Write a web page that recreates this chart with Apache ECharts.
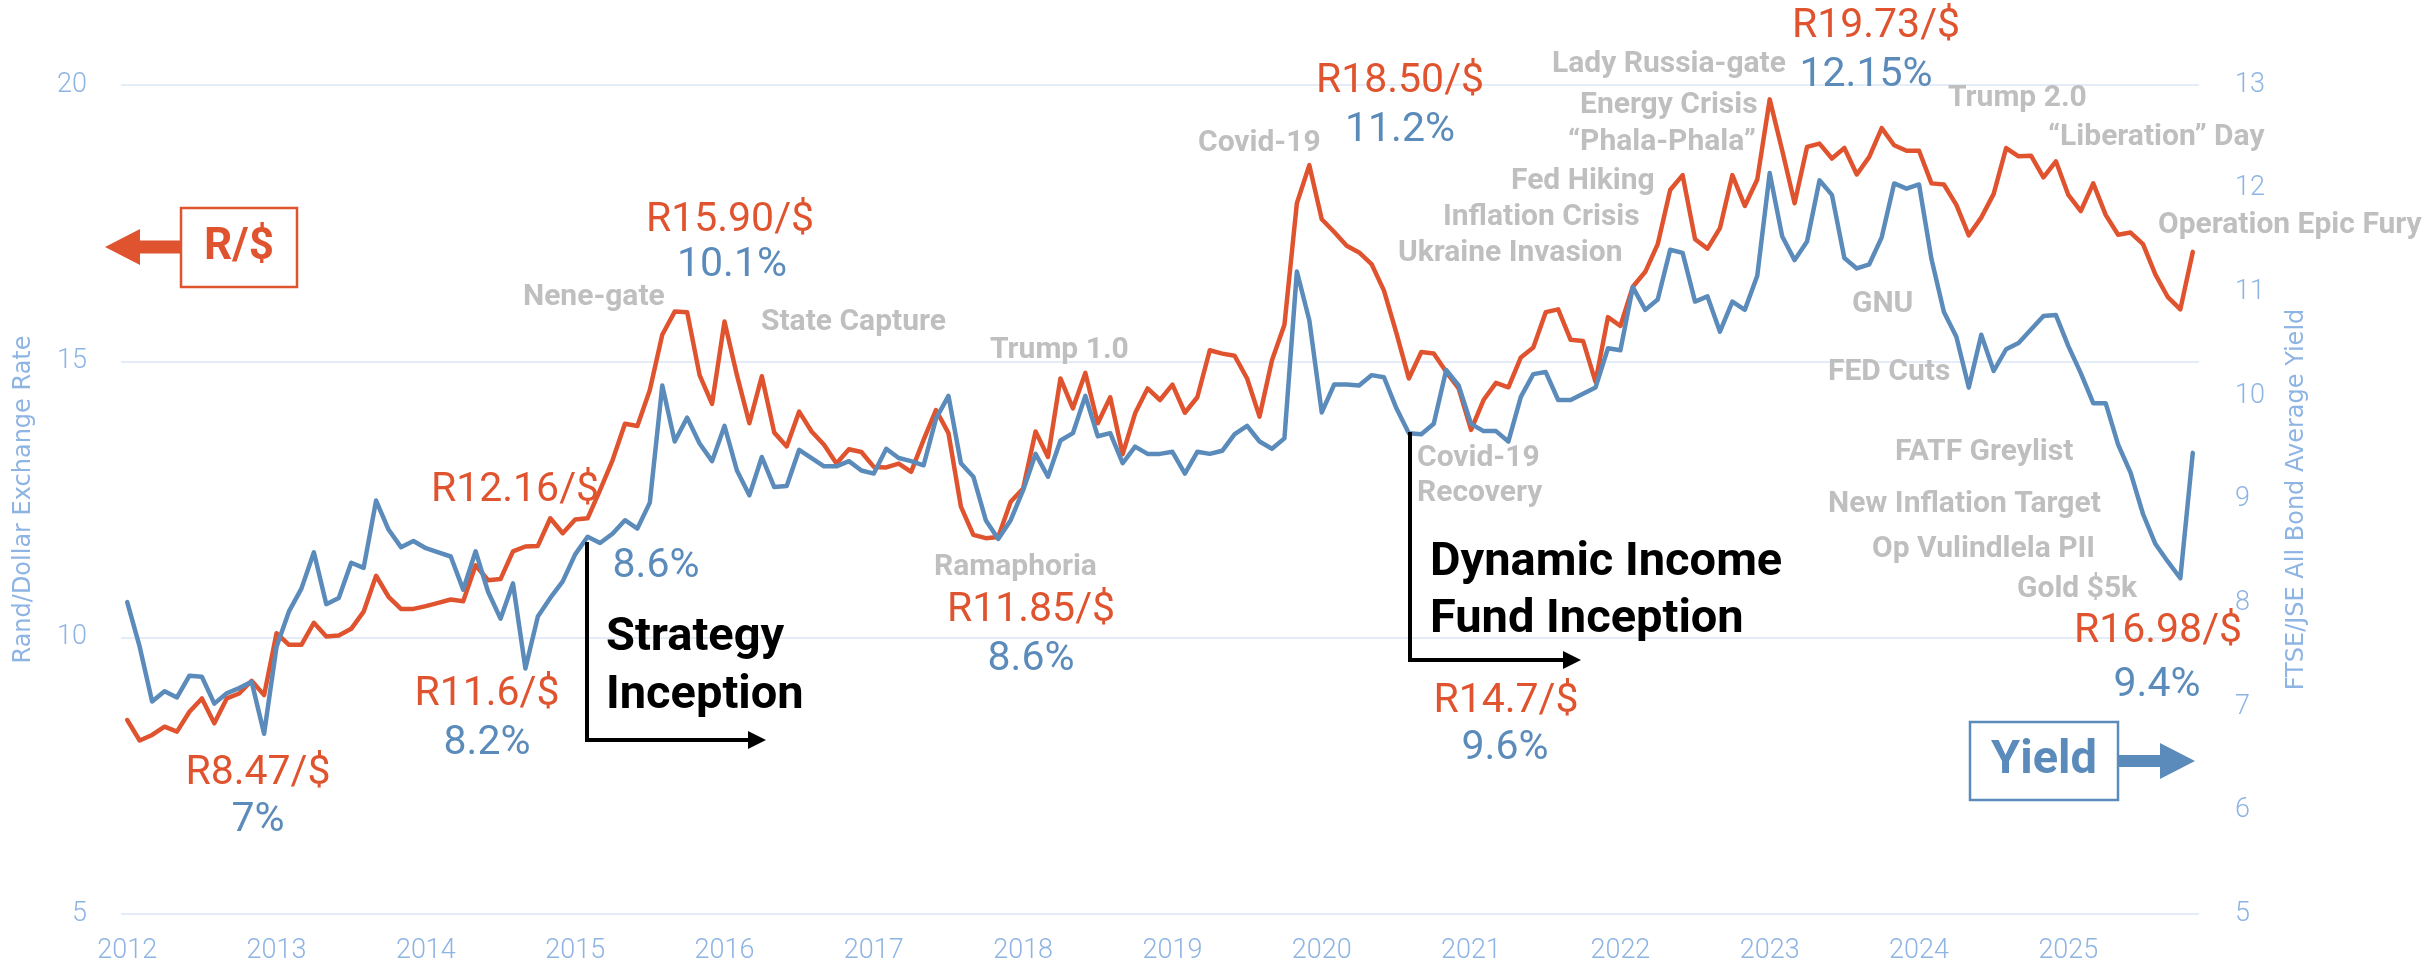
<!DOCTYPE html>
<html>
<head>
<meta charset="utf-8">
<title>Rand/Dollar vs All Bond Yield</title>
<script src="https://cdn.jsdelivr.net/npm/echarts@6/dist/echarts.min.js"></script>
<style>
  html, body { margin: 0; padding: 0; background: #fff; }
  #main { width: 2422px; height: 969px; }
</style>
</head>
<body>
<div id="main"></div>
<script>
// monthly points, first one is May 2012
var months = [];
for (var k = 0; k < 167; k++) {
  var yy = 2012 + Math.floor((k + 4) / 12);
  var mm = ((k + 4) % 12) + 1;
  months.push(yy + '-' + (mm < 10 ? '0' + mm : mm));
}

// year tick labels, one every 12 points
var yearTicks = ['2012', '2013', '2014', '2015', '2016', '2017', '2018',
  '2019', '2020', '2021', '2022', '2023', '2024', '2025'];

// Rand / Dollar exchange rate (left axis)
var randDollar = [
  8.51, 8.14, 8.24, 8.39, 8.30, 8.66, 8.90, 8.45, 8.90, 8.99, 9.22, 8.96,
  10.08, 9.87, 9.87, 10.27, 10.02, 10.04, 10.16, 10.47, 11.12, 10.74, 10.52, 10.52,
  10.57, 10.63, 10.69, 10.66, 11.31, 11.04, 11.06, 11.56, 11.65, 11.66, 12.16, 11.89,
  12.14, 12.16, 12.67, 13.21, 13.87, 13.83, 14.48, 15.48, 15.90, 15.89, 14.75, 14.23,
  15.72, 14.75, 13.88, 14.73, 13.71, 13.46, 14.09, 13.73, 13.49, 13.15, 13.41, 13.36,
  13.09, 13.08, 13.15, 13.00, 13.58, 14.12, 13.70, 12.37, 11.86, 11.80, 11.82, 12.46,
  12.70, 13.73, 13.27, 14.69, 14.15, 14.79, 13.88, 14.35, 13.32, 14.06, 14.51, 14.30,
  14.58, 14.07, 14.35, 15.20, 15.14, 15.10, 14.69, 14.00, 15.02, 15.66, 17.86, 18.55,
  17.57, 17.34, 17.09, 16.97, 16.76, 16.28, 15.51, 14.69, 15.17, 15.14, 14.81, 14.51,
  13.76, 14.30, 14.61, 14.53, 15.07, 15.25, 15.89, 15.94, 15.39, 15.37, 14.63, 15.80,
  15.64, 16.35, 16.62, 17.12, 18.10, 18.37, 17.21, 17.04, 17.41, 18.37, 17.81, 18.29,
  19.74, 18.82, 17.86, 18.88, 18.94, 18.67, 18.86, 18.38, 18.70, 19.22, 18.91, 18.81,
  18.81, 18.22, 18.20, 17.83, 17.28, 17.60, 18.03, 18.86, 18.71, 18.72, 18.33, 18.62,
  18.01, 17.72, 18.22, 17.65, 17.29, 17.33, 17.12, 16.57, 16.16, 15.94, 16.98
];

// FTSE/JSE All Bond average yield (right axis)
var bondYield = [
  8.01, 7.58, 7.05, 7.15, 7.09, 7.30, 7.29, 7.03, 7.13, 7.18, 7.24, 6.74,
  7.58, 7.92, 8.14, 8.49, 7.99, 8.05, 8.39, 8.34, 8.99, 8.71, 8.54, 8.60,
  8.53, 8.49, 8.45, 8.13, 8.50, 8.11, 7.85, 8.19, 7.37, 7.87, 8.05, 8.21,
  8.47, 8.64, 8.58, 8.67, 8.80, 8.72, 8.97, 10.10, 9.56, 9.79, 9.54, 9.37,
  9.71, 9.28, 9.04, 9.41, 9.12, 9.13, 9.48, 9.40, 9.32, 9.32, 9.37, 9.28,
  9.25, 9.49, 9.40, 9.37, 9.33, 9.78, 10.00, 9.35, 9.22, 8.80, 8.62, 8.80,
  9.09, 9.44, 9.22, 9.57, 9.64, 10.00, 9.61, 9.64, 9.35, 9.51, 9.44, 9.44,
  9.46, 9.25, 9.46, 9.44, 9.47, 9.63, 9.71, 9.56, 9.49, 9.59, 11.20, 10.73,
  9.84, 10.11, 10.11, 10.10, 10.20, 10.18, 9.88, 9.64, 9.63, 9.73, 10.25, 10.10,
  9.73, 9.66, 9.66, 9.56, 9.99, 10.21, 10.23, 9.96, 9.96, 10.02, 10.08, 10.46,
  10.44, 11.05, 10.83, 10.93, 11.41, 11.38, 10.91, 10.96, 10.62, 10.91, 10.83, 11.16,
  12.15, 11.54, 11.31, 11.49, 12.08, 11.94, 11.33, 11.23, 11.27, 11.53, 12.05, 12.00,
  12.04, 11.32, 10.81, 10.57, 10.08, 10.59, 10.24, 10.45, 10.51, 10.64, 10.77, 10.78,
  10.48, 10.22, 9.93, 9.93, 9.53, 9.26, 8.86, 8.57, 8.40, 8.24, 9.45
];

var RED = '#E0532F';
var BLUE = '#5B8BBA';
var GREY = '#BFBFBF';
var AXIS = '#8EB4E3';

var fontEvent = 'bold 30px Roboto';
var fontValue = 'normal 41px Roboto';
var fontBig = 'bold 47px Roboto';

// text helper (y is the middle of the capitals)
function txt(s, x, y, font, fill, align) {
  return {
    type: 'text', x: x, y: y, z: 100,
    style: {
      text: s, font: font, fill: fill,
      textAlign: align || 'left', align: align || 'left',
      textVerticalAlign: 'middle', verticalAlign: 'middle'
    }
  };
}

var graphics = [
  // events
  txt('Nene-gate', 523, 297, fontEvent, GREY),
  txt('State Capture', 761, 322, fontEvent, GREY),
  txt('Trump 1.0', 990, 350, fontEvent, GREY),
  txt('Ramaphoria', 934, 567, fontEvent, GREY),
  txt('Covid-19', 1198, 143, fontEvent, GREY),
  txt('Covid-19', 1417, 458, fontEvent, GREY),
  txt('Recovery', 1417, 493, fontEvent, GREY),
  txt('Lady Russia-gate', 1552, 64, fontEvent, GREY),
  txt('Energy Crisis', 1580, 105, fontEvent, GREY),
  txt('\u201cPhala-Phala\u201d', 1568, 142, fontEvent, GREY),
  txt('Fed Hiking', 1511, 181, fontEvent, GREY),
  txt('Inflation Crisis', 1443, 217, fontEvent, GREY),
  txt('Ukraine Invasion', 1398, 253, fontEvent, GREY),
  txt('Trump 2.0', 1948, 98, fontEvent, GREY),
  txt('\u201cLiberation\u201d Day', 2048, 137, fontEvent, GREY),
  txt('Operation Epic Fury', 2158, 225, fontEvent, GREY),
  txt('GNU', 1852, 304, fontEvent, GREY),
  txt('FED Cuts', 1828, 372, fontEvent, GREY),
  txt('FATF Greylist', 1895, 452, fontEvent, GREY),
  txt('New Inflation Target', 1828, 504, fontEvent, GREY),
  txt('Op Vulindlela PII', 1872, 549, fontEvent, GREY),
  txt('Gold $5k', 2017, 589, fontEvent, GREY),

  // rand and yield call-outs
  txt('R8.47/$', 258, 774, fontValue, RED, 'center'),
  txt('7%', 258, 821, fontValue, BLUE, 'center'),
  txt('R11.6/$', 487, 695, fontValue, RED, 'center'),
  txt('8.2%', 487, 744, fontValue, BLUE, 'center'),
  txt('R12.16/$', 515, 491, fontValue, RED, 'center'),
  txt('8.6%', 656, 567, fontValue, BLUE, 'center'),
  txt('R15.90/$', 730, 221, fontValue, RED, 'center'),
  txt('10.1%', 732, 266, fontValue, BLUE, 'center'),
  txt('R11.85/$', 1031, 611, fontValue, RED, 'center'),
  txt('8.6%', 1031, 660, fontValue, BLUE, 'center'),
  txt('R18.50/$', 1400, 82, fontValue, RED, 'center'),
  txt('11.2%', 1400, 131, fontValue, BLUE, 'center'),
  txt('R14.7/$', 1506, 702, fontValue, RED, 'center'),
  txt('9.6%', 1505, 749, fontValue, BLUE, 'center'),
  txt('R19.73/$', 1876, 27, fontValue, RED, 'center'),
  txt('12.15%', 1866, 76, fontValue, BLUE, 'center'),
  txt('R16.98/$', 2158, 632, fontValue, RED, 'center'),
  txt('9.4%', 2157, 686, fontValue, BLUE, 'center'),

  // inception markers
  { type: 'polyline', z: 90, shape: { points: [[587, 542], [587, 740], [752, 740]] },
    style: { stroke: '#000', lineWidth: 4, fill: null } },
  { type: 'polygon', z: 90, shape: { points: [[748, 731], [766, 740], [748, 749]] },
    style: { fill: '#000' } },
  txt('Strategy', 606, 638, fontBig, '#000'),
  txt('Inception', 606, 696, fontBig, '#000'),

  { type: 'polyline', z: 90, shape: { points: [[1410, 432], [1410, 660], [1566, 660]] },
    style: { stroke: '#000', lineWidth: 4, fill: null } },
  { type: 'polygon', z: 90, shape: { points: [[1563, 651], [1581, 660], [1563, 669]] },
    style: { fill: '#000' } },
  txt('Dynamic Income', 1430, 563, fontBig, '#000'),
  txt('Fund Inception', 1430, 620, fontBig, '#000'),

  // R/$ box with arrow to the left axis
  { type: 'rect', z: 90, shape: { x: 181, y: 208, width: 116, height: 79 },
    style: { fill: '#fff', stroke: RED, lineWidth: 2.5 } },
  { type: 'polygon', z: 90,
    shape: { points: [[105, 247], [140, 229], [140, 240.5], [181, 240.5], [181, 253.5], [140, 253.5], [140, 265]] },
    style: { fill: RED } },
  txt('R/$', 239, 248, 'bold 44px Roboto', RED, 'center'),

  // Yield box with arrow to the right axis
  { type: 'rect', z: 90, shape: { x: 1970, y: 722, width: 148, height: 78 },
    style: { fill: '#fff', stroke: BLUE, lineWidth: 2.5 } },
  { type: 'polygon', z: 90,
    shape: { points: [[2118, 755], [2160, 755], [2160, 743], [2195, 761], [2160, 779], [2160, 767], [2118, 767]] },
    style: { fill: BLUE } },
  txt('Yield', 2044, 761, fontBig, BLUE, 'center')
];

var chart = echarts.init(document.getElementById('main'));

var option = {
  animation: false,
  backgroundColor: '#fff',
  grid: { left: 121, right: 223, top: 85, bottom: 55 },
  xAxis: {
    type: 'category',
    data: months,
    boundaryGap: true,
    axisLine: { show: false },
    axisTick: { show: false },
    splitLine: { show: false },
    axisLabel: {
      interval: 11,
      margin: 24,
      color: AXIS,
      fontFamily: 'Roboto',
      fontWeight: 300,
      fontSize: 27,
      formatter: function (value, index) {
        return yearTicks[index / 12] || '';
      }
    }
  },
  yAxis: [
    {
      type: 'value',
      position: 'left',
      min: 5, max: 20, interval: 5,
      name: 'Rand/Dollar Exchange Rate',
      nameLocation: 'middle',
      nameGap: 85,
      nameTextStyle: { color: AXIS, fontFamily: 'DejaVu Sans', fontSize: 24 },
      axisLine: { show: false },
      axisTick: { show: false },
      axisLabel: { color: AXIS, fontFamily: 'Roboto', fontWeight: 300, fontSize: 27, margin: 34 },
      splitLine: { lineStyle: { color: '#E4ECF7', width: 2 } }
    },
    {
      type: 'value',
      position: 'right',
      min: 5, max: 13, interval: 1,
      name: 'FTSE/JSE All Bond Average Yield',
      nameLocation: 'middle',
      nameGap: 86,
      nameTextStyle: { color: AXIS, fontFamily: 'DejaVu Sans', fontSize: 24 },
      axisLine: { show: false },
      axisTick: { show: false },
      axisLabel: { color: AXIS, fontFamily: 'Roboto', fontWeight: 300, fontSize: 27, margin: 36 },
      splitLine: { show: false }
    }
  ],
  series: [
    {
      name: 'R/$',
      type: 'line',
      yAxisIndex: 0,
      data: randDollar,
      symbol: 'none',
      lineStyle: { color: RED, width: 4.5, join: 'round', cap: 'round' },
      z: 3
    },
    {
      name: 'Yield',
      type: 'line',
      yAxisIndex: 1,
      data: bondYield,
      symbol: 'none',
      lineStyle: { color: BLUE, width: 4.5, join: 'round', cap: 'round' },
      z: 4
    }
  ],
  graphic: graphics
};

chart.setOption(option);
</script>
</body>
</html>
